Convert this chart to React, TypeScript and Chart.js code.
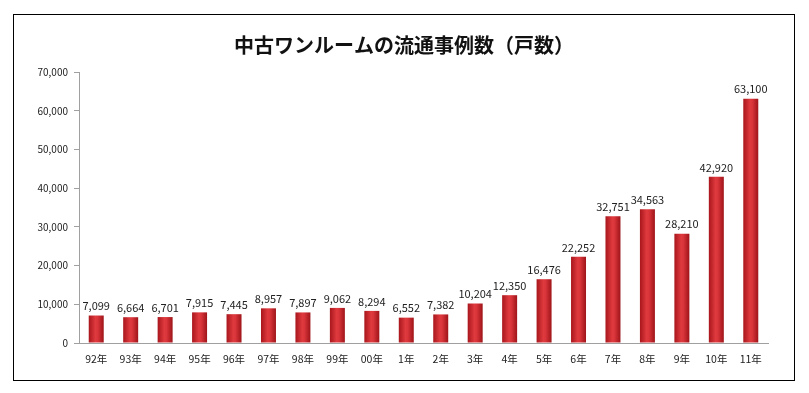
import React, { useEffect, useRef } from "react";
import { Chart, registerables } from "chart.js";

Chart.register(...registerables);

const categories = ["92年", "93年", "94年", "95年", "96年", "97年", "98年", "99年", "00年", "1年", "2年", "3年", "4年", "5年", "6年", "7年", "8年", "9年", "10年", "11年"];
const values = [7099, 6664, 6701, 7915, 7445, 8957, 7897, 9062, 8294, 6552, 7382, 10204, 12350, 16476, 22252, 32751, 34563, 28210, 42920, 63100];
const yTicks = [0, 10000, 20000, 30000, 40000, 50000, 60000, 70000];
const title = "中古ワンルームの流通事例数（戸数）";

const FONT = "'Noto Sans CJK JP', 'Noto Sans', sans-serif";

const fmt = (v: number) => v.toLocaleString("en-US");

const framePlugin = {
  id: "frame",
  beforeDraw(chart: any) {
    const c = chart.ctx;
    c.save();
    c.fillStyle = "#ffffff";
    c.fillRect(0, 0, chart.width, chart.height);
    c.strokeStyle = "#000000";
    c.lineWidth = 1;
    c.strokeRect(13.5, 14.5, 781, 366);
    c.fillStyle = "#111";
    c.font = `bold 20px ${FONT}`;
    c.textAlign = "center";
    c.textBaseline = "middle";
    c.fillText(title, 404, 45);
    c.restore();
  },
};

const labelPlugin = {
  id: "valueLabels",
  afterDatasetsDraw(chart: any) {
    const c = chart.ctx;
    const meta = chart.getDatasetMeta(0);
    c.save();
    c.fillStyle = "#222";
    c.font = `11px ${FONT}`;
    c.textAlign = "center";
    c.textBaseline = "bottom";
    meta.data.forEach((el: any, i: number) => {
      c.fillText(fmt(values[i]), el.x, el.y - 4);
    });
    c.restore();
  },
};

export default function App() {
  const ref = useRef<HTMLCanvasElement | null>(null);
  useEffect(() => {
    if (!ref.current) return;
    const chart = new Chart(ref.current, {
      type: "bar",
      data: {
        labels: categories,
        datasets: [
          {
            data: values,
            backgroundColor: (ctx: any) => {
              const ch = ctx.chart;
              const xs = ch.scales && ch.scales.x;
              if (!xs || !ch.chartArea || ctx.dataIndex === undefined) return "#cc2a30";
              const cx = xs.getPixelForValue(ctx.dataIndex);
              const w = 15;
              const g = ch.ctx.createLinearGradient(cx - w / 2, 0, cx + w / 2, 0);
              g.addColorStop(0, "#a8161c");
              g.addColorStop(0.45, "#df3a3e");
              g.addColorStop(0.6, "#d9353a");
              g.addColorStop(1, "#9e1419");
              return g;
            },
            borderWidth: 0,
            barPercentage: 0.435,
            categoryPercentage: 1,
          },
        ],
      },
      options: {
        animation: false,
        responsive: false,
        devicePixelRatio: 1,
        layout: { padding: { left: 0, top: 72, right: 41, bottom: 0 } },
        plugins: {
          legend: { display: false },
          title: { display: false },
          tooltip: { enabled: false },
        },
        scales: {
          x: {
            grid: { display: false, drawTicks: false },
            border: { display: true, color: "#a0a0a0", width: 1 },
            ticks: { color: "#222", font: { family: FONT, size: 10.5 }, padding: 10, maxRotation: 0, autoSkip: false },
            afterFit: (s: any) => { s.height = 50; },
          },
          y: {
            min: 0,
            max: 70000,
            afterBuildTicks: (s: any) => { s.ticks = yTicks.map((v) => ({ value: v })); },
            grid: { drawOnChartArea: false, drawTicks: true, tickLength: 5, color: "#a0a0a0" },
            border: { display: true, color: "#a0a0a0", width: 1 },
            ticks: { color: "#222", font: { family: FONT, size: 10 }, padding: 6, callback: (v: any) => fmt(Number(v)) },
            afterFit: (s: any) => { s.width = 79; },
          },
        },
      },
      plugins: [framePlugin, labelPlugin],
    });
    chart.update();
    return () => chart.destroy();
  }, []);
  return (
    <div style={{ position: "fixed", left: 0, top: 0, width: 809, height: 393, background: "#fff" }}>
      <canvas ref={ref} width={809} height={393} style={{ width: 809, height: 393, display: "block" }} />
    </div>
  );
}
